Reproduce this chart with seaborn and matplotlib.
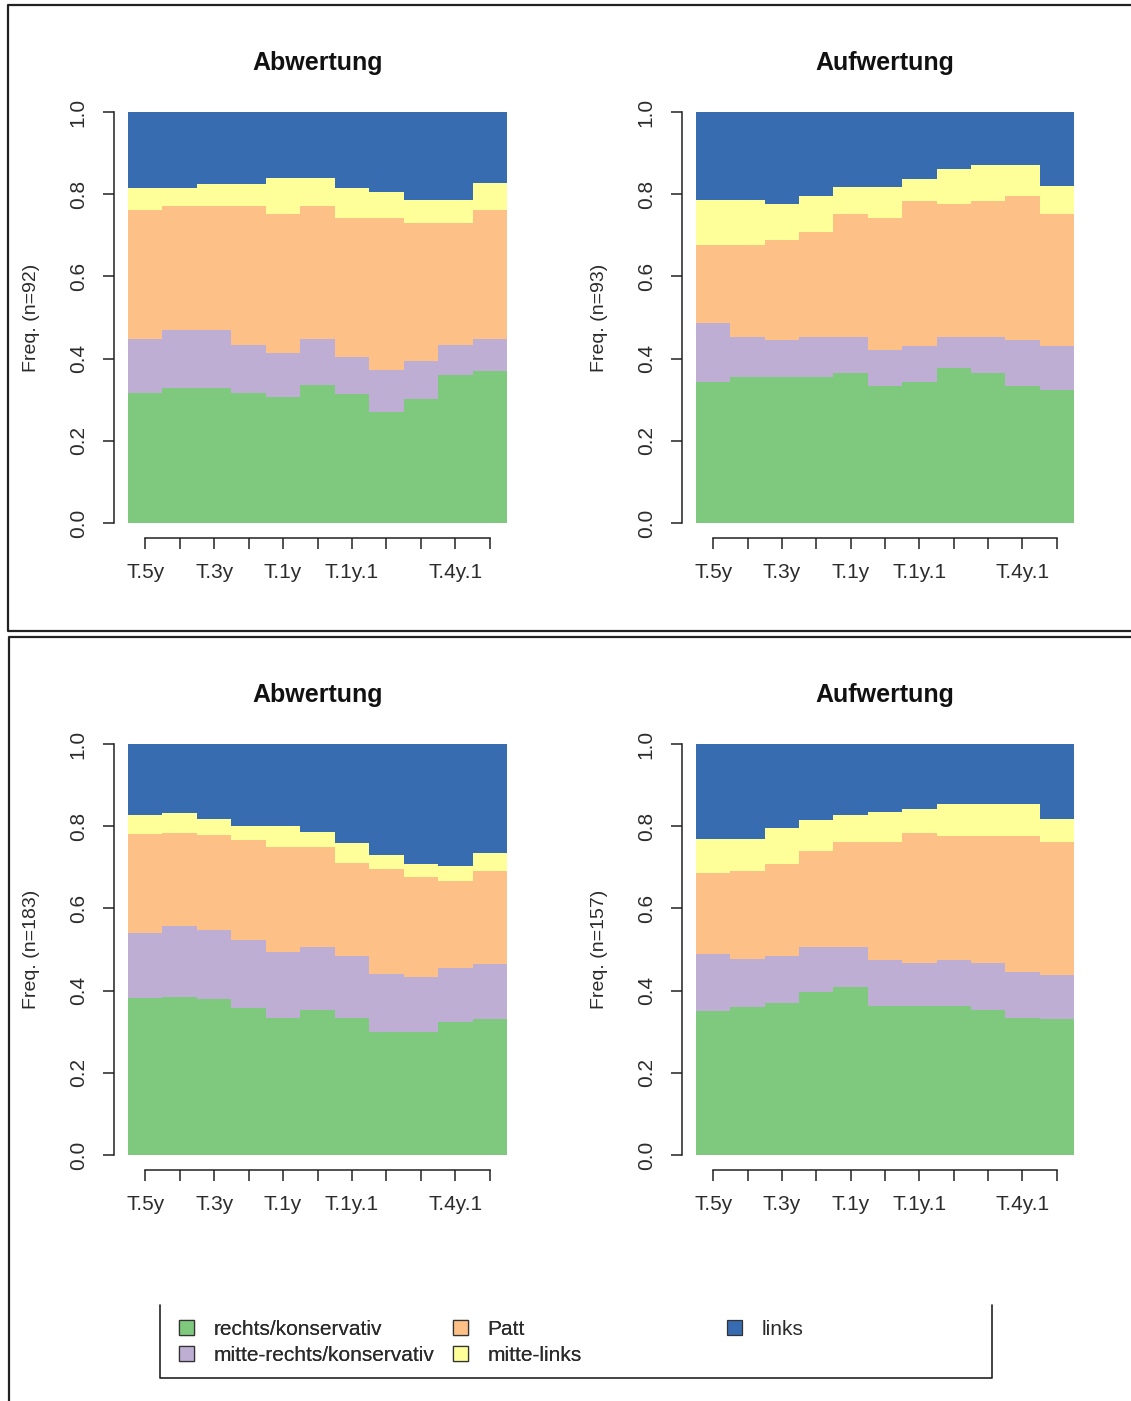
import numpy as np
import pandas as pd
import matplotlib
matplotlib.use("Agg")
import matplotlib.pyplot as plt
from matplotlib.patches import Patch
from matplotlib.lines import Line2D
import seaborn as sns

# Zeitpunkte (nur jede zweite Beschriftung ist im Original sichtbar)
tick_labels = ["T.5y", "", "T.3y", "", "T.1y", "", "T.1y.1", "", "", "T.4y.1", ""]
groups = ["rechts/konservativ", "mitte-rechts/konservativ", "Patt", "mitte-links", "links"]

# Anteile je Gruppe, oben: n=92 / n=93, unten: n=183 / n=157
ab1_rechts = [0.317, 0.328, 0.328, 0.317, 0.306, 0.336, 0.314, 0.271, 0.301, 0.360, 0.371]
ab1_mrechts = [0.130, 0.142, 0.142, 0.116, 0.107, 0.111, 0.091, 0.101, 0.092, 0.073, 0.076]
ab1_patt = [0.314, 0.301, 0.301, 0.338, 0.340, 0.324, 0.336, 0.369, 0.336, 0.296, 0.314]
ab1_mlinks = [0.055, 0.045, 0.055, 0.055, 0.087, 0.069, 0.075, 0.065, 0.058, 0.058, 0.066]
ab1_links = [0.184, 0.184, 0.174, 0.174, 0.160, 0.160, 0.184, 0.194, 0.213, 0.213, 0.173]

auf1_rechts = [0.344, 0.356, 0.355, 0.355, 0.366, 0.334, 0.342, 0.377, 0.366, 0.334, 0.324]
auf1_mrechts = [0.142, 0.097, 0.090, 0.098, 0.087, 0.087, 0.089, 0.076, 0.087, 0.111, 0.107]
auf1_patt = [0.190, 0.223, 0.243, 0.256, 0.298, 0.322, 0.353, 0.324, 0.331, 0.350, 0.320]
auf1_mlinks = [0.109, 0.109, 0.089, 0.086, 0.067, 0.075, 0.054, 0.085, 0.086, 0.075, 0.069]
auf1_links = [0.215, 0.215, 0.223, 0.205, 0.182, 0.182, 0.162, 0.138, 0.130, 0.130, 0.180]

ab2_rechts = [0.381, 0.385, 0.379, 0.357, 0.333, 0.354, 0.333, 0.300, 0.300, 0.323, 0.330]
ab2_mrechts = [0.158, 0.172, 0.168, 0.166, 0.162, 0.153, 0.150, 0.140, 0.132, 0.131, 0.135]
ab2_patt = [0.242, 0.226, 0.232, 0.243, 0.254, 0.242, 0.227, 0.255, 0.244, 0.213, 0.227]
ab2_mlinks = [0.046, 0.050, 0.038, 0.034, 0.051, 0.038, 0.048, 0.035, 0.032, 0.036, 0.042]
ab2_links = [0.173, 0.167, 0.183, 0.200, 0.200, 0.213, 0.242, 0.270, 0.292, 0.297, 0.266]

auf2_rechts = [0.351, 0.359, 0.369, 0.397, 0.408, 0.363, 0.363, 0.363, 0.353, 0.334, 0.331]
auf2_mrechts = [0.138, 0.117, 0.115, 0.110, 0.099, 0.111, 0.105, 0.111, 0.113, 0.112, 0.107]
auf2_patt = [0.196, 0.216, 0.224, 0.233, 0.255, 0.288, 0.315, 0.301, 0.309, 0.330, 0.324]
auf2_mlinks = [0.085, 0.078, 0.087, 0.075, 0.065, 0.073, 0.060, 0.079, 0.079, 0.078, 0.055]
auf2_links = [0.230, 0.230, 0.205, 0.185, 0.173, 0.165, 0.157, 0.146, 0.146, 0.146, 0.183]

panels = [
    ("Abwertung", "Freq. (n=92)", [ab1_rechts, ab1_mrechts, ab1_patt, ab1_mlinks, ab1_links]),
    ("Aufwertung", "Freq. (n=93)", [auf1_rechts, auf1_mrechts, auf1_patt, auf1_mlinks, auf1_links]),
    ("Abwertung", "Freq. (n=183)", [ab2_rechts, ab2_mrechts, ab2_patt, ab2_mlinks, ab2_links]),
    ("Aufwertung", "Freq. (n=157)", [auf2_rechts, auf2_mrechts, auf2_patt, auf2_mlinks, auf2_links]),
]

sns.set_style("ticks")
plt.rcParams["font.family"] = ["Liberation Sans", "DejaVu Sans"]
text_col = "#2b2b2b"

colors = sns.color_palette("Accent", 5)
pal = dict(zip(groups, colors))

W, H = 1131, 1401
fig = plt.figure(figsize=(W / 100, H / 100), dpi=100)


def px_axes(left, top, right, bottom):
    return fig.add_axes([left / W, 1 - bottom / H, (right - left) / W, (bottom - top) / H])


boxes = [(128, 112, 507, 523), (696, 112, 1074, 523),
         (128, 744, 507, 1155), (696, 744, 1074, 1155)]

for (title, ylab, series), box in zip(panels, boxes):
    ax = px_axes(*box)
    rows = []
    for g, vals in zip(groups, series):
        for i, v in enumerate(vals):
            rows.append({"pos": i, "gruppe": g, "anteil": v})
    df = pd.DataFrame(rows)
    # seaborn stapelt die letzte hue-Stufe zuunterst
    sns.histplot(data=df, x="pos", weights="anteil", hue="gruppe",
                 hue_order=groups[::-1], palette=pal, multiple="stack",
                 discrete=True, element="step", alpha=1, linewidth=0,
                 legend=False, ax=ax)
    ax.set_xlim(-0.5, len(tick_labels) - 0.5)
    ax.set_ylim(0, 1)
    ax.set_xticks(range(len(tick_labels)))
    ax.set_xticklabels(tick_labels)
    ax.set_yticks(np.arange(0, 1.01, 0.2))
    ax.set_yticklabels([f"{t:.1f}" for t in np.arange(0, 1.01, 0.2)])
    for s in ["top", "right"]:
        ax.spines[s].set_visible(False)
    ax.spines["left"].set_position(("outward", 10))
    ax.spines["bottom"].set_position(("outward", 11))
    ax.spines["left"].set_bounds(0, 1)
    ax.spines["bottom"].set_bounds(0, len(tick_labels) - 1)
    for s in ["left", "bottom"]:
        ax.spines[s].set_linewidth(1.1)
        ax.spines[s].set_color("#222222")
    ax.tick_params(axis="both", length=8, width=1.1, color="#222222",
                   labelsize=15, labelcolor=text_col)
    ax.tick_params(axis="x", pad=10)
    ax.tick_params(axis="y", pad=11, labelrotation=90)
    for lbl in ax.get_yticklabels():
        lbl.set_va("center")
    ax.set_xlabel("")
    ax.set_ylabel(ylab, fontsize=14, color=text_col, labelpad=21)
    ax.set_title(title, fontsize=18, fontweight="bold", color="#111111", pad=30)
    ax.set_facecolor("white")

# Legende
handles = [Patch(facecolor=pal[g], edgecolor="#333333", linewidth=0.9, label=g) for g in groups]
leg_kw = dict(frameon=False, handlelength=0.7, handleheight=0.7, handletextpad=0.95,
              labelspacing=0.33, fontsize=15, labelcolor=text_col, borderpad=0,
              borderaxespad=0)
leg1 = fig.legend(handles=handles[:4], ncol=2, loc="upper left", columnspacing=0.9,
                  bbox_to_anchor=(179 / W, 1 - 1320 / H), **leg_kw)
fig.add_artist(leg1)
fig.legend(handles=handles[4:], loc="upper left",
           bbox_to_anchor=(727 / W, 1 - 1320 / H), **leg_kw)


def fig_line(xs, ys, lw=1.4, color="#222222"):
    fig.add_artist(Line2D([x / W for x in xs], [1 - y / H for y in ys],
                          transform=fig.transFigure, color=color, linewidth=lw))


# Rahmen der Legende (oben abgeschnitten)
fig_line([160, 160, 992, 992], [1305, 1378, 1378, 1305], lw=1.2)
# Rahmen der beiden Bildausschnitte
fig_line([1131, 8, 8, 1131], [5, 5, 631, 631], lw=1.6)
fig_line([1131, 9, 9], [637, 637, 1401], lw=1.6)

fig.savefig("out.png", dpi=100, facecolor="white")
